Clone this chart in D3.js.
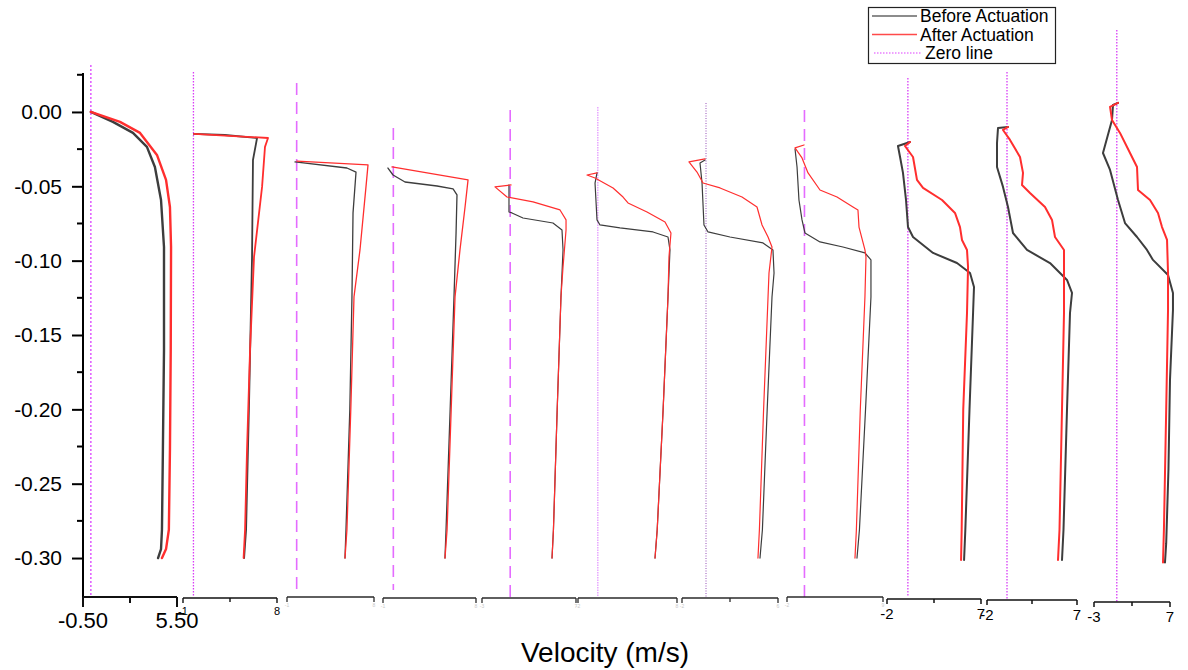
<!DOCTYPE html>
<html>
<head>
<meta charset="utf-8">
<script src="https://cdn.jsdelivr.net/npm/d3@7"></script>
<style>
  html, body { margin: 0; padding: 0; background: #fff; }
  svg { display: block; font-family: "Liberation Sans", Arial, sans-serif; }
</style>
</head>
<body>
<svg id="chart" width="1188" height="670"></svg>
<script>
// Velocity profiles (m/s) against depth, eleven stations, before and after actuation.
// Each series is a list of [velocity, depth] pairs.
const before1 = [[0.0,0],[1.41,-0.0067],[2.69,-0.0141],[3.58,-0.0235],[4.09,-0.037],[4.48,-0.0592],[4.67,-0.0908],[4.67,-0.16],[4.6,-0.227],[4.54,-0.281],[4.48,-0.294],[4.29,-0.3]];
const after1  = [[0.0,0],[1.86,-0.0067],[3.14,-0.0141],[4.22,-0.0289],[4.8,-0.0457],[5.05,-0.0639],[5.12,-0.0908],[5.1,-0.16],[5.05,-0.227],[4.98,-0.281],[4.8,-0.294],[4.54,-0.3]];

const before2 = [[0.05,-0.0148],[3.0,-0.0155],[6.09,-0.0175],[5.7,-0.0323],[5.61,-0.0975],[5.33,-0.194],[5.04,-0.281],[4.85,-0.3]];
const after2  = [[0.05,-0.0148],[7.14,-0.0175],[6.85,-0.0235],[6.57,-0.0504],[5.8,-0.0975],[5.42,-0.16],[5.13,-0.227],[4.94,-0.281],[4.8,-0.3]];

const before3 = [[-0.17,-0.0336],[5.2,-0.0377],[6.14,-0.0404],[5.83,-0.0679],[5.72,-0.1244],[5.5,-0.2],[5.1,-0.281],[5.0,-0.3]];
const after3  = [[0.03,-0.033],[7.38,-0.0356],[7.17,-0.0504],[6.55,-0.0928],[5.93,-0.1244],[5.6,-0.2],[5.2,-0.281],[5.0,-0.3]];

const before4 = [[-0.52,-0.0377],[-0.03,-0.0424],[1.13,-0.0471],[4.23,-0.0498],[5.78,-0.0518],[6.16,-0.0558],[6.07,-0.0814],[5.87,-0.1244],[5.5,-0.2],[5.1,-0.281],[5.0,-0.3]];
const after4  = [[-0.13,-0.037],[7.23,-0.0457],[6.94,-0.0639],[6.45,-0.0928],[5.97,-0.1244],[5.6,-0.2],[5.2,-0.281],[5.0,-0.3]];

const before5 = [[-0.13,-0.0491],[-0.13,-0.0673],[0.19,-0.0679],[1.36,-0.0713],[4.55,-0.0747],[5.51,-0.0794],[5.62,-0.0928],[5.4,-0.1244],[5.0,-0.2],[4.6,-0.281],[4.45,-0.3]];
const after5  = [[0.09,-0.0491],[-1.62,-0.0504],[-0.34,-0.0572],[2.43,-0.0605],[5.3,-0.0659],[5.94,-0.0726],[5.94,-0.0794],[5.62,-0.1043],[5.4,-0.1244],[5.0,-0.2],[4.6,-0.281],[4.45,-0.3]];

const before6 = [[-0.08,-0.041],[-0.28,-0.0478],[-0.08,-0.0726],[0.22,-0.076],[2.24,-0.078],[5.58,-0.0807],[7.09,-0.0841],[7.29,-0.0928],[7.09,-0.1244],[6.6,-0.2],[6.0,-0.281],[5.78,-0.3]];
const after6  = [[-0.08,-0.041],[-1.09,-0.0424],[-0.28,-0.0444],[1.54,-0.0511],[2.55,-0.0572],[3.05,-0.0612],[4.97,-0.0673],[6.79,-0.074],[7.39,-0.0814],[7.19,-0.0975],[7.09,-0.1244],[6.6,-0.2],[6.0,-0.281],[5.78,-0.3]];

const before7 = [[-0.08,-0.0323],[-0.5,-0.0343],[-0.33,-0.0478],[-0.17,-0.076],[0.17,-0.0807],[2.0,-0.0841],[4.75,-0.0881],[5.58,-0.0928],[5.67,-0.1083],[5.5,-0.1244],[5.1,-0.2],[4.7,-0.281],[4.5,-0.3]];
const after7  = [[-0.08,-0.0316],[-1.42,-0.0336],[-0.75,-0.0404],[-0.25,-0.0478],[1.17,-0.0511],[3.0,-0.0572],[4.25,-0.0639],[4.67,-0.076],[5.17,-0.0841],[5.5,-0.0908],[5.25,-0.1083],[5.17,-0.1244],[4.8,-0.2],[4.45,-0.281],[4.33,-0.3]];

const before8 = [[-1.08,-0.0249],[-0.85,-0.037],[-0.63,-0.0592],[-0.28,-0.0726],[0.06,-0.0814],[1.78,-0.0874],[4.41,-0.0908],[6.93,-0.0948],[7.62,-0.0995],[7.62,-0.1244],[7.0,-0.2],[6.3,-0.281],[6.02,-0.3]];
const after8  = [[-0.05,-0.0222],[-1.08,-0.0242],[-0.28,-0.0309],[0.41,-0.041],[1.78,-0.0525],[3.73,-0.0572],[5.56,-0.0639],[6.13,-0.0659],[6.25,-0.0774],[6.93,-0.0928],[7.05,-0.0975],[6.93,-0.1244],[6.4,-0.2],[5.95,-0.281],[5.79,-0.3]];

const before9 = [[0.2,-0.0202],[-0.95,-0.0229],[-0.75,-0.0303],[-0.47,-0.041],[-0.18,-0.0592],[0.01,-0.0774],[0.49,-0.0841],[2.41,-0.0948],[4.7,-0.1016],[5.95,-0.1083],[6.33,-0.1177],[6.24,-0.1352],[5.9,-0.2],[5.5,-0.281],[5.38,-0.3013]];
const after9  = [[0.2,-0.0202],[-0.28,-0.0229],[0.49,-0.0303],[0.87,-0.0457],[1.45,-0.0511],[3.27,-0.0592],[4.51,-0.0679],[4.99,-0.0774],[5.18,-0.0861],[5.66,-0.0928],[5.76,-0.1043],[5.66,-0.1352],[5.3,-0.2],[5.15,-0.281],[5.09,-0.3013]];

const before10 = [[0.1,-0.0101],[-0.9,-0.0108],[-1.0,-0.0209],[-1.0,-0.037],[-0.4,-0.0504],[0.1,-0.0639],[0.6,-0.0814],[2.0,-0.0928],[4.3,-0.1016],[6.0,-0.113],[6.5,-0.1217],[6.3,-0.1352],[6.0,-0.2],[5.65,-0.281],[5.5,-0.3013]];
const after10  = [[0.1,-0.0101],[-0.4,-0.0121],[0.3,-0.0188],[1.3,-0.0303],[1.6,-0.041],[1.5,-0.0491],[2.3,-0.0545],[3.8,-0.0639],[4.5,-0.0726],[4.8,-0.0841],[5.7,-0.0928],[5.7,-0.1352],[5.5,-0.2],[5.25,-0.281],[5.1,-0.3013]];

const before11 = [[0.16,0.0061],[-0.5,0.0047],[-0.63,-0.0054],[-1.82,-0.0276],[-0.89,-0.039],[0.16,-0.0592],[1.08,-0.0747],[2.66,-0.0841],[3.97,-0.0928],[4.76,-0.0995],[6.74,-0.1096],[7.39,-0.1217],[7.39,-0.1332],[7.0,-0.18],[6.8,-0.24],[6.5,-0.29],[6.34,-0.303]];
const after11  = [[0.16,0.0061],[-0.89,0.0034],[-0.63,-0.0054],[0.42,-0.0141],[1.74,-0.0276],[2.66,-0.037],[2.79,-0.0525],[4.37,-0.0592],[5.42,-0.0679],[5.95,-0.0774],[6.61,-0.0861],[6.74,-0.1083],[6.74,-0.1332],[6.5,-0.2],[6.2,-0.281],[6.08,-0.303]];

// Velocity range shown by each station's own axis, and its end labels.
const velocityDomains = [[-0.5,5.5],[-1,8],[-1,8],[-1,8],[-3,7],[-2,8],[-2,6],[-2,9],[-2,7],[-2,7],[-3,7]];
const velocityLabels  = [["-0.50","5.50"],["-1","8"],["-1","8"],["-1","8"],["-3","7"],["-2","8"],["-2","6"],["-2","9"],["-2","7"],["-2","7"],["-3","7"]];

// Shared depth axis
const depthDomain = [0.0262, -0.3262];
const depthMajorTicks = [0, -0.05, -0.10, -0.15, -0.20, -0.25, -0.30];
const depthMinorTicks = [0.025, -0.025, -0.075, -0.125, -0.175, -0.225, -0.275];

const legendLabels = ["Before Actuation", "After Actuation", "Zero line"];
const axisTitle = "Velocity (m/s)";

const beforeSeries = [before1, before2, before3, before4, before5, before6, before7, before8, before9, before10, before11];
const afterSeries  = [after1, after2, after3, after4, after5, after6, after7, after8, after9, after10, after11];

// ---- layout of the eleven small panels ----
const panels = [
  { x0: 83,   x1: 177,  ay: 597, zTop: 65,  zBot: 597, zDash: "2,2",   zColor: "#e264ff", zW: 1.6, lw: 2.4, axW: 2,   lab: 22, labDy: 21, midTick: true, style: "main" },
  { x0: 183,  x1: 277,  ay: 598, zTop: 72,  zBot: 597, zDash: "1.5,1.5", zColor: "#d83cf6", zW: 1.3, lw: 1.8, axW: 1.4, lab: 11, labDy: 12, midTick: true },
  { x0: 287,  x1: 374,  ay: 597, zTop: 83,  zBot: 590, zDash: "12,7",  zColor: "#e46cff", zW: 1.6, lw: 1.3, axW: 1.3, lab: 5,  labDy: 5,  faint: true },
  { x0: 383,  x1: 476,  ay: 598, zTop: 128, zBot: 590, zDash: "12,7",  zColor: "#e46cff", zW: 1.6, lw: 1.3, axW: 1.3, lab: 5,  labDy: 5,  faint: true },
  { x0: 482,  x1: 576,  ay: 598, zTop: 110, zBot: 597, zDash: "12,7",  zColor: "#e46cff", zW: 1.6, lw: 1.2, axW: 1.3, lab: 5,  labDy: 5,  faint: true },
  { x0: 578,  x1: 677,  ay: 598, zTop: 107, zBot: 597, zDash: "1.5,1", zColor: "#e6a0ff", zW: 1.4, lw: 1.2, axW: 1.3, lab: 5,  labDy: 5,  faint: true },
  { x0: 682,  x1: 778,  ay: 598, zTop: 103, zBot: 597, zDash: "1,1.5", zColor: "#8a3cb0", zW: 0.9, lw: 1.2, axW: 1.3, lab: 5,  labDy: 5,  faint: true, midTick: true },
  { x0: 787,  x1: 883,  ay: 597, zTop: 110, zBot: 597, zDash: "12,7",  zColor: "#e46cff", zW: 1.6, lw: 1.2, axW: 1.3, lab: 5,  labDy: 5,  faint: true },
  { x0: 887,  x1: 981,  ay: 599, zTop: 78,  zBot: 597, zDash: "1.5,1.5", zColor: "#d83cf6", zW: 1.3, lw: 2.0, axW: 1.5, lab: 15, labDy: 15, midTick: true },
  { x0: 987,  x1: 1077, ay: 600, zTop: 72,  zBot: 600, zDash: "1.5,1.5", zColor: "#d83cf6", zW: 1.3, lw: 2.0, axW: 1.5, lab: 15, labDy: 15, midTick: true },
  { x0: 1094, x1: 1170, ay: 602, zTop: 30,  zBot: 602, zDash: "1.5,1.5", zColor: "#d83cf6", zW: 1.3, lw: 2.0, axW: 1.5, lab: 15, labDy: 15, midTick: true }
];

const svg = d3.select("#chart");
const y = d3.scaleLinear().domain(depthDomain).range([73, 597]);

const BLACK = "#3d3d3d";
const RED = "#ff2e2e";

// zero lines first, so the profiles are drawn over them
panels.forEach((p, i) => {
  const x = d3.scaleLinear().domain(velocityDomains[i]).range([p.x0, p.x1]);
  svg.append("line")
    .attr("x1", x(0)).attr("x2", x(0))
    .attr("y1", p.zTop).attr("y2", p.zBot)
    .attr("stroke", p.zColor).attr("stroke-width", p.zW)
    .attr("stroke-dasharray", p.zDash);
});

// velocity profiles
panels.forEach((p, i) => {
  const x = d3.scaleLinear().domain(velocityDomains[i]).range([p.x0, p.x1]);
  const line = d3.line().x(d => x(d[0])).y(d => y(d[1]));
  svg.append("path").datum(beforeSeries[i]).attr("d", line)
    .attr("fill", "none").attr("stroke", BLACK).attr("stroke-width", p.lw)
    .attr("stroke-linejoin", "round").attr("stroke-linecap", "round");
  svg.append("path").datum(afterSeries[i]).attr("d", line)
    .attr("fill", "none").attr("stroke", RED).attr("stroke-width", p.lw)
    .attr("stroke-linejoin", "round").attr("stroke-linecap", "round");
});

// depth axis
const yAxis = svg.append("g").attr("transform", "translate(83,0)");
yAxis.call(d3.axisLeft(y).tickValues(depthMajorTicks).tickSize(11).tickPadding(10)
  .tickFormat(d3.format(".2f")));
yAxis.select(".domain").remove();
yAxis.selectAll(".tick line").attr("stroke", "#000").attr("stroke-width", 2);
yAxis.selectAll(".tick text").attr("font-size", 21).attr("fill", "#000")
  .attr("font-family", "Liberation Sans, Arial, sans-serif")
  .text(d => d3.format(".2f")(d).replace("−", "-"));
yAxis.selectAll(".minor").data(depthMinorTicks).enter().append("line")
  .attr("x1", -6).attr("x2", 0).attr("y1", d => y(d)).attr("y2", d => y(d))
  .attr("stroke", "#000").attr("stroke-width", 2);
yAxis.append("line").attr("x1", 0).attr("x2", 0).attr("y1", 73).attr("y2", 598)
  .attr("stroke", "#000").attr("stroke-width", 2);

// one small velocity axis under each station
panels.forEach((p, i) => {
  const x = d3.scaleLinear().domain(velocityDomains[i]).range([p.x0, p.x1]);
  const g = svg.append("g").attr("transform", `translate(0,${p.ay})`);
  const main = p.style === "main";
  const tickLen = main ? 10 : 5;
  const col = p.faint ? "#2a2a2a" : "#111";
  g.append("line").attr("x1", p.x0).attr("x2", p.x1).attr("y1", 0).attr("y2", 0)
    .attr("stroke", col).attr("stroke-width", p.axW);
  velocityDomains[i].forEach(v => {
    g.append("line").attr("x1", x(v)).attr("x2", x(v)).attr("y1", 0).attr("y2", tickLen)
      .attr("stroke", col).attr("stroke-width", p.axW);
  });
  if (p.midTick) {
    const m = (velocityDomains[i][0] + velocityDomains[i][1]) / 2;
    g.append("line").attr("x1", x(m)).attr("x2", x(m)).attr("y1", 0).attr("y2", main ? 6 : 4)
      .attr("stroke", col).attr("stroke-width", p.axW);
  }
  velocityDomains[i].forEach((v, k) => {
    g.append("text").attr("x", x(v)).attr("y", tickLen + p.labDy)
      .attr("text-anchor", "middle").attr("font-size", p.lab)
      .attr("fill", p.faint ? "#c8c8c8" : "#000")
      .text(velocityLabels[i][k]);
  });
});

// axis title
svg.append("text").attr("x", 605).attr("y", 662).attr("text-anchor", "middle")
  .attr("font-size", 28).attr("fill", "#000").text(axisTitle);

// legend
const lg = svg.append("g");
lg.append("rect").attr("x", 868.5).attr("y", 7.5).attr("width", 187).attr("height", 56)
  .attr("fill", "#fff").attr("stroke", "#222").attr("stroke-width", 1.2);
const legendStyles = [
  { color: "#666", dash: null, w: 1.3, x1: 872, x2: 917, tx: 920 },
  { color: "#ff4a4a", dash: null, w: 1.3, x1: 872, x2: 917, tx: 920 },
  { color: "#e040ff", dash: "1.5,1.5", w: 1.2, x1: 874, x2: 921, tx: 925 }
];
legendLabels.forEach((t, k) => {
  const s = legendStyles[k];
  const cy = 16 + k * 18.5;
  lg.append("line").attr("x1", s.x1).attr("x2", s.x2).attr("y1", cy).attr("y2", cy)
    .attr("stroke", s.color).attr("stroke-width", s.w).attr("stroke-dasharray", s.dash);
  lg.append("text").attr("x", s.tx).attr("y", cy + 6).attr("font-size", 17.5)
    .attr("fill", "#000").text(t);
});
</script>
</body>
</html>
